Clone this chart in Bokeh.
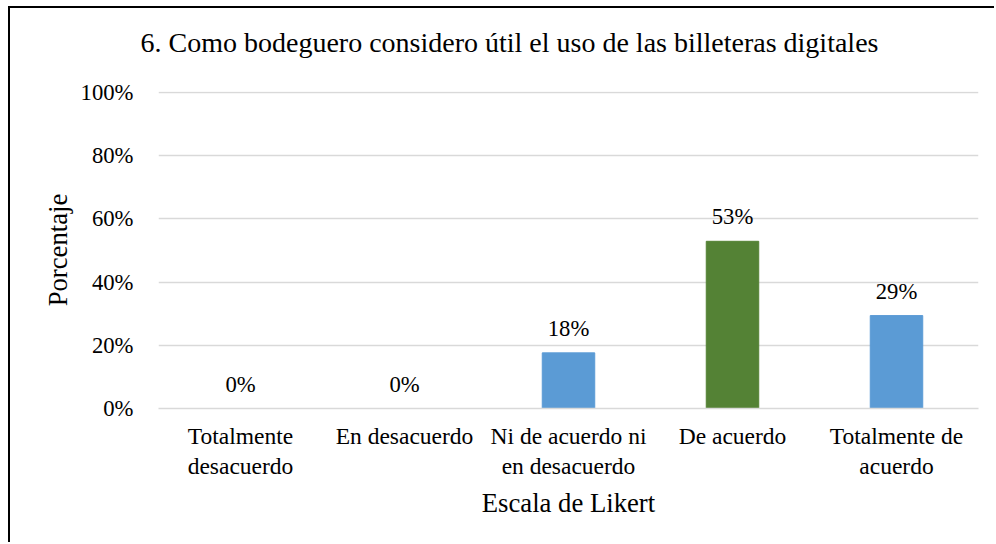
from bokeh.plotting import figure
from bokeh.models import ColumnDataSource, LabelSet, FixedTicker, NumeralTickFormatter, FactorRange, Range1d, Title
from bokeh.embed import file_html
from bokeh.resources import INLINE

categories = ["Totalmente\ndesacuerdo", "En desacuerdo", "Ni de acuerdo ni\nen desacuerdo", "De acuerdo", "Totalmente de\nacuerdo"]
values = [0.0, 0.0, 0.176, 0.529, 0.294]
colors = ["#5B9BD5", "#5B9BD5", "#5B9BD5", "#548235", "#5B9BD5"]
y_ticks = [0, 0.2, 0.4, 0.6, 0.8, 1.0]
title_text = "6. Como bodeguero considero útil el uso de las billeteras digitales"

labels = [f"{round(v * 100)}%" for v in values]
source = ColumnDataSource(dict(cat=categories, val=values, color=colors, label=labels))

FONT = "'Liberation Serif', 'Times New Roman', serif"

p = figure(width=986, height=536, x_range=FactorRange(*categories, range_padding=0),
           y_range=Range1d(0, 1.003), output_backend="svg", toolbar_location=None,
           title=title_text,
           min_border_left=148, min_border_right=18, min_border_top=83, min_border_bottom=136,
           styles={"margin-left": "8px", "margin-top": "6px",
                   "border-left": "2px solid black", "border-top": "2px solid black"})
p.outline_line_color = None

# spacer between title and plot area
p.add_layout(Title(text=" ", text_font_size="1px", standoff=26), "above")

p.title.align = "left"
p.title.offset = -18
p.title.vertical_align = "bottom"
p.title.standoff = 10
p.title.text_font = FONT
p.title.text_font_size = "28px"
p.title.text_font_style = "normal"
p.title.text_color = "#000000"

p.vbar(x="cat", top="val", width=0.32, color="color", source=source)

p.add_layout(LabelSet(x="cat", y="val", text="label", source=source, y_offset=17,
                      text_align="center", text_baseline="alphabetic",
                      text_font=FONT, text_font_size="22.7px", text_color="#000000"))

p.xgrid.grid_line_color = None
p.ygrid.grid_line_color = "#D9D9D9"
p.ygrid.grid_line_width = 1.3

p.yaxis.ticker = FixedTicker(ticks=y_ticks)
p.yaxis.formatter = NumeralTickFormatter(format="0%")
p.yaxis.axis_line_color = None
p.yaxis.major_tick_line_color = None
p.yaxis.minor_tick_line_color = None
p.yaxis.major_label_standoff = 19
p.yaxis.major_label_text_font_size = "22.7px"
p.yaxis.axis_label = "Porcentaje"
p.yaxis.axis_label_standoff = 5

p.xaxis.axis_line_color = "#D9D9D9"
p.xaxis.axis_line_width = 1.3
p.xaxis.major_tick_line_color = None
p.xaxis.minor_tick_line_color = None
p.xaxis.major_label_standoff = 8
p.xaxis.major_label_text_font_size = "23.5px"
p.xaxis.major_label_text_line_height = 1.17
p.xaxis.axis_label = "Escala de Likert"
p.xaxis.axis_label_standoff = 6

for ax in (p.xaxis, p.yaxis):
    ax.major_label_text_font = FONT
    ax.major_label_text_color = "#000000"
    ax.axis_label_text_font = FONT
    ax.axis_label_text_font_size = "26.7px"
    ax.axis_label_text_font_style = "normal"
    ax.axis_label_text_color = "#000000"

open("out.html", "w").write(file_html(p, INLINE))
